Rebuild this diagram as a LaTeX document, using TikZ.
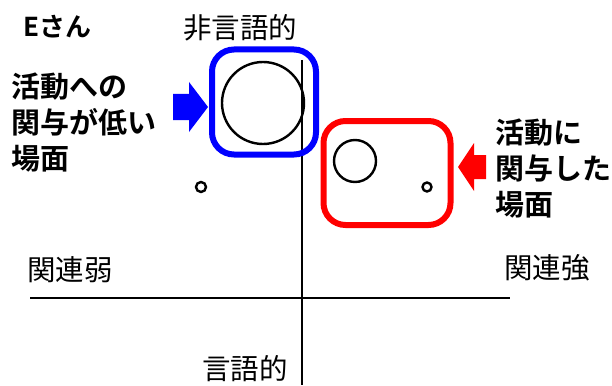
\documentclass[tikz,border=0pt]{standalone}
\usepackage{fontspec}
\setmainfont{Noto Sans CJK JP}
\newfontfamily\jpbold{Noto Sans CJK JP}[BoldFont={* Bold}]
\begin{document}
\begin{tikzpicture}[x=1pt,y=-1pt,
  axis/.style={line width=1.8pt,black},
  ring/.style={circle,draw=black,line width=2.4pt,inner sep=0pt},
  frame/.style={draw,line width=6pt,rounded corners=22pt,inner sep=0pt},
  lbl/.style={font=\fontsize{28.5}{28.5}\selectfont,inner sep=0pt},
  blbl/.style={font=\fontsize{29}{36}\bfseries\selectfont,inner sep=0pt,align=left,anchor=west}]
\useasboundingbox (0,0) rectangle (612,385);
% axes
\coordinate (vt) at (302,60);
\coordinate (vb) at (302,385);
\coordinate (hl) at (30,298);
\coordinate (hr) at (510,298);
\draw[axis] (vt) -- (vb);
\draw[axis] (hl) -- (hr);
% frames
\node[frame,draw=blue,minimum width=104pt,minimum height=105pt] (bluebox) at (264,102) {};
\node[frame,draw=red,minimum width=127pt,minimum height=104pt] (redbox) at (387,173) {};
% circles
\node[ring,minimum size=82pt] (c1) at (263,103) {};
\node[ring,minimum size=42pt] (c2) at (355,161) {};
\node[ring,minimum size=10pt] (c3) at (201,187) {};
\node[ring,minimum size=9pt] (c4) at (427,187) {};
% arrows
\fill[blue] (173,94) -- (189,94) -- (189,82) -- (208,107) -- (189,132) -- (189,120) -- (173,120) -- cycle;
\fill[red] (486,155) -- (474,155) -- (474,143) -- (458,167) -- (474,191) -- (474,179) -- (486,179) -- cycle;
% texts
\node[lbl,font=\fontsize{26}{26}\bfseries\selectfont,anchor=west] (e) at (23,27) {\jpbold Eさん};
\node[lbl] (nonverbal) at (240,28) {非言語的};
\node[lbl] (verbal) at (245,369) {言語的};
\node[lbl,anchor=west] (weak) at (27,270) {関連弱};
\node[lbl,anchor=west] (strong) at (504,268) {関連強};
\node[blbl] (low) at (11,123) {\jpbold 活動への\\\jpbold 関与が低い\\\jpbold 場面};
\node[blbl] (high) at (495,169) {\jpbold 活動に\\\jpbold 関与した\\\jpbold 場面};
\end{tikzpicture}
\end{document}
